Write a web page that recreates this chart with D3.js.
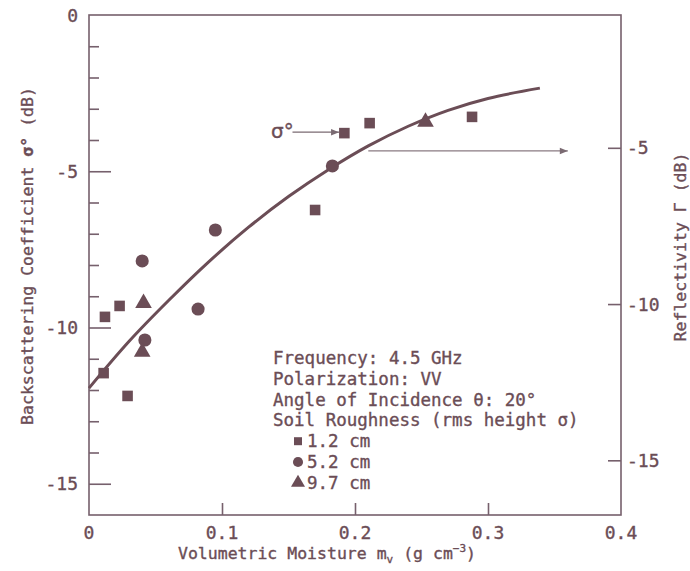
<!DOCTYPE html>
<html><head><meta charset="utf-8">
<script src="https://cdn.jsdelivr.net/npm/d3@7"></script>
<style>body{margin:0;background:#fff}svg{display:block}text{stroke:#6b4d56;stroke-width:0.35px}</style>
</head><body>
<svg id="c" width="690" height="571"></svg>
<script>
// ---- data ----
const xTicks = [0, 0.1, 0.2, 0.3, 0.4];
const yLeftMajor = [0, -5, -10, -15];
const yLeftMinor = [-1,-2,-3,-4,-6,-7,-8,-9,-11,-12,-13,-14];
const yRightTicks = [-5, -10, -15];

// 1.2 cm (squares)
const sqX = [0.012, 0.023, 0.011, 0.029, 0.170, 0.192, 0.211, 0.288];
const sqY = [-9.66, -9.31, -11.46, -12.19, -6.24, -3.78, -3.46, -3.26];
// 5.2 cm (circles)
const ciX = [0.040, 0.095, 0.082, 0.042, 0.183];
const ciY = [-7.87, -6.88, -9.41, -10.40, -4.83];
// 9.7 cm (triangles)
const trX = [0.041, 0.040, 0.253];
const trY = [-9.22, -10.78, -3.42];
// fitted curve
const curveX = [0, 0.03, 0.06, 0.09, 0.12, 0.15, 0.18, 0.21, 0.24, 0.27, 0.30, 0.339];
const curveY = [-11.94, -10.45, -9.13, -7.90, -6.79, -5.81, -4.95, -4.19, -3.56, -3.05, -2.67, -2.34];

const legendLines = ["Frequency: 4.5 GHz", "Polarization: VV", "Angle of Incidence θ: 20°", "Soil Roughness (rms height σ)"];
const legendItems = ["1.2 cm", "5.2 cm", "9.7 cm"];

// ---- drawing ----
const ink = "#6b4d56", frame = "#76606c";
const font = "'DejaVu Sans Mono', 'Liberation Mono', monospace";
const svg = d3.select("#c");
const L = 89, R = 621, T = 15, B = 515;
const x = d3.scaleLinear().domain([0, 0.4]).range([L, R]);
const y = d3.scaleLinear().domain([0, -16]).range([T, B]);
const yR = d3.scaleLinear().domain([-0.75, -16.75]).range([T, B]);

// frame
svg.append("rect").attr("x", L).attr("y", T).attr("width", R - L).attr("height", B - T)
  .attr("fill", "none").attr("stroke", frame).attr("stroke-width", 1.6);

// left axis ticks (inside)
const gL = svg.append("g").attr("transform", `translate(${L},0)`)
  .call(d3.axisRight(y).tickValues(yLeftMajor.filter(d => d !== 0)).tickSize(22).tickFormat(""));
const gLm = svg.append("g").attr("transform", `translate(${L},0)`)
  .call(d3.axisRight(y).tickValues(yLeftMinor).tickSize(10).tickFormat(""));
// right axis ticks (inside)
const gR = svg.append("g").attr("transform", `translate(${R},0)`)
  .call(d3.axisLeft(yR).tickValues(yRightTicks).tickSize(13).tickFormat(""));
// bottom ticks (inside)
const gB = svg.append("g").attr("transform", `translate(0,${B})`)
  .call(d3.axisTop(x).tickValues(xTicks.filter(d => d > 0 && d < 0.4)).tickSize(12).tickFormat(""));
[gL, gLm, gR, gB].forEach(g => {
  g.select(".domain").remove();
  g.selectAll("line").attr("stroke", frame).attr("stroke-width", 1.6);
});

// tick labels
svg.append("g").selectAll("text").data(yLeftMajor).join("text")
  .attr("x", L - 11).attr("y", d => y(d)).attr("text-anchor", "end").attr("dominant-baseline", "central")
  .attr("font-family", font).attr("font-size", 18).attr("fill", ink).text(d => d);
svg.append("g").selectAll("text").data(yRightTicks).join("text")
  .attr("x", R + 6).attr("y", d => yR(d)).attr("text-anchor", "start").attr("dominant-baseline", "central")
  .attr("font-family", font).attr("font-size", 18).attr("fill", ink).text(d => d);
svg.append("g").selectAll("text").data(xTicks).join("text")
  .attr("x", d => x(d)).attr("y", 532).attr("text-anchor", "middle").attr("dominant-baseline", "central")
  .attr("font-family", font).attr("font-size", 18).attr("fill", ink).text(d => d === 0 ? "0" : d3.format(".1f")(d));

// axis titles
const xt = svg.append("text").attr("x", 327).attr("y", 559).attr("text-anchor", "middle")
  .attr("font-family", font).attr("font-size", 16.5).attr("fill", ink);
xt.append("tspan").text("Volumetric Moisture m");
xt.append("tspan").attr("font-size", 11).attr("dy", 4).text("v");
xt.append("tspan").attr("dy", -4).text(" (g cm");
xt.append("tspan").attr("font-size", 11).attr("dy", -7).text("−3");
xt.append("tspan").attr("dy", 7).text(")");

const yt = svg.append("text").attr("transform", "translate(33,256) rotate(-90)").attr("text-anchor", "middle")
  .attr("font-family", font).attr("font-size", 16.5).attr("fill", ink);
yt.append("tspan").text("Backscattering Coefficient ");
yt.append("tspan").attr("font-weight", "bold").text("σ°");
yt.append("tspan").text(" (dB)");

svg.append("text").attr("transform", "translate(686,247) rotate(-90)").attr("text-anchor", "middle")
  .attr("font-family", font).attr("font-size", 16.5).attr("fill", ink).text("Reflectivity Γ (dB)");

// curve
const pts = curveX.map((d, i) => [d, curveY[i]]);
svg.append("path").datum(pts)
  .attr("d", d3.line().x(d => x(d[0])).y(d => y(d[1])).curve(d3.curveCatmullRom))
  .attr("fill", "none").attr("stroke", ink).attr("stroke-width", 3);

// markers
function plot(xs, ys, type, size) {
  svg.append("g").selectAll("path").data(xs.map((d, i) => [d, ys[i]])).join("path")
    .attr("transform", d => `translate(${x(d[0])},${y(d[1])})`)
    .attr("d", d3.symbol().type(type).size(size)).attr("fill", ink);
}
plot(sqX, sqY, d3.symbolSquare, 112);
plot(ciX, ciY, d3.symbolCircle, 135);
plot(trX, trY, d3.symbolTriangle, 120);

// arrows
const defs = svg.append("defs");
defs.append("marker").attr("id", "ah").attr("viewBox", "0 0 10 10").attr("refX", 10).attr("refY", 5)
  .attr("markerWidth", 14).attr("markerHeight", 8).attr("markerUnits", "userSpaceOnUse").attr("orient", "auto")
  .append("path").attr("d", "M0,1 L10,5 L0,9 Z").attr("fill", "#7a6a72");
svg.append("text").attr("x", 271).attr("y", 131).attr("dominant-baseline", "central")
  .attr("font-family", "'DejaVu Sans', sans-serif").attr("font-size", 20).attr("fill", ink).text("σ°");
svg.append("line").attr("x1", x(0.153)).attr("y1", y(-3.75)).attr("x2", x(0.188)).attr("y2", y(-3.75))
  .attr("stroke", "#7a6a72").attr("stroke-width", 1.2).attr("marker-end", "url(#ah)");
svg.append("line").attr("x1", x(0.210)).attr("y1", y(-4.35)).attr("x2", x(0.360)).attr("y2", y(-4.35))
  .attr("stroke", "#8a7a82").attr("stroke-width", 1.2).attr("marker-end", "url(#ah)");

// legend
const lg = svg.append("g").attr("font-family", font).attr("font-size", 17.5).attr("fill", ink);
legendLines.forEach((t, i) => {
  lg.append("text").attr("x", 273).attr("y", 358 + i * 20.8).attr("dominant-baseline", "central").text(t);
});
const legSyms = [d3.symbolSquare, d3.symbolCircle, d3.symbolTriangle];
const legSz = [64, 80, 85];
legendItems.forEach((t, i) => {
  const cy = 358 + (i + 4) * 20.8;
  lg.append("path").attr("transform", `translate(298,${cy})`).attr("d", d3.symbol().type(legSyms[i]).size(legSz[i]));
  lg.append("text").attr("x", 307).attr("y", cy).attr("dominant-baseline", "central").text(t);
});
</script>
</body></html>
